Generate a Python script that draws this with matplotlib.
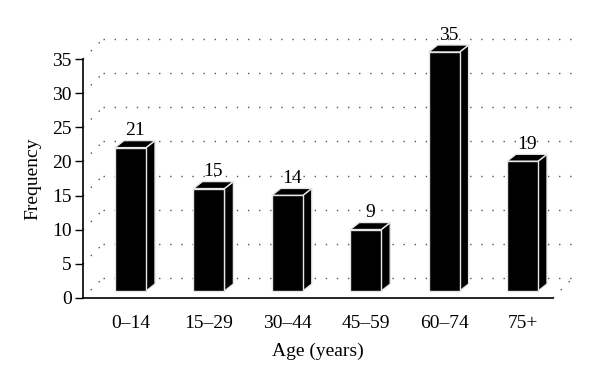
import matplotlib
matplotlib.use("Agg")
import matplotlib.pyplot as plt
from matplotlib.patches import Polygon

plt.rcParams['font.family'] = ['Liberation Serif', 'DejaVu Serif']

# Data
age_groups = ["0\u201314", "15\u201329", "30\u201344", "45\u201359", "60\u201374", "75+"]
frequency = [21, 15, 14, 9, 35, 19]
y_ticks = [0, 5, 10, 15, 20, 25, 30, 35]

# Layout (pixel based, figure is 600x374 at dpi 100)
fig = plt.figure(figsize=(6, 3.74), dpi=100)
ax = fig.add_axes([83 / 600, 76 / 374, 470 / 600, 239 / 374])
ax.set_xlim(-0.606, 5.389)
ax.set_ylim(0, 35)

ux = 1 / 78.4     # data units per pixel in x
uy = 35 / 239     # data units per pixel in y

# back wall offset of the pseudo-3D frame
wall_dx = 20 * ux
wall_dy = 20 * uy
x_left = ax.get_xlim()[0]
x_right = x_left + 470 * ux

dot_style = dict(color="#555555", lw=1.0, linestyle=(0, (1, 7)), clip_on=False, zorder=1)

# back wall gridlines
for g in y_ticks:
    ax.plot([x_left + wall_dx, x_right + wall_dx + 2 * ux], [g + wall_dy, g + wall_dy], **dot_style)
    # side wall diagonals
    ax.plot([x_left, x_left + wall_dx], [g, g + wall_dy], **dot_style)
# floor right edge
ax.plot([x_right, x_right + wall_dx], [0, wall_dy], **dot_style)

# bars
w = 31 * ux
dx = 9 * ux
dy = 7 * uy
base = 7 * uy
bar_style = dict(facecolor="black", edgecolor="#e6e6e6", lw=1.0, clip_on=False, zorder=3)
for i, v in enumerate(frequency):
    x0 = i - w / 2
    top = base + v
    front = [(x0, base), (x0 + w, base), (x0 + w, top), (x0, top)]
    side = [(x0 + w, base), (x0 + w + dx, base + dy), (x0 + w + dx, top + dy), (x0 + w, top)]
    lid = [(x0, top), (x0 + w, top), (x0 + w + dx, top + dy), (x0 + dx, top + dy)]
    for pts in (side, lid, front):
        ax.add_patch(Polygon(pts, closed=True, **bar_style))
    ax.text(i + dx / 2, top + dy + 0.2, str(v), ha="center", va="bottom",
            fontsize=14, zorder=4)

# axes styling
for s in ["top", "right"]:
    ax.spines[s].set_visible(False)
ax.spines["left"].set_linewidth(1.2)
ax.spines["bottom"].set_linewidth(1.2)
ax.set_yticks(y_ticks)
ax.set_xticks(range(len(age_groups)))
ax.set_xticklabels(age_groups)
ax.tick_params(axis="y", direction="out", length=6, width=1, labelsize=14, pad=2)
ax.tick_params(axis="x", length=0, labelsize=14, pad=12)
ax.set_ylabel("Frequency", fontsize=14, labelpad=8)
ax.set_xlabel("Age (years)", fontsize=14, labelpad=8)

fig.savefig("out.png", dpi=100)
